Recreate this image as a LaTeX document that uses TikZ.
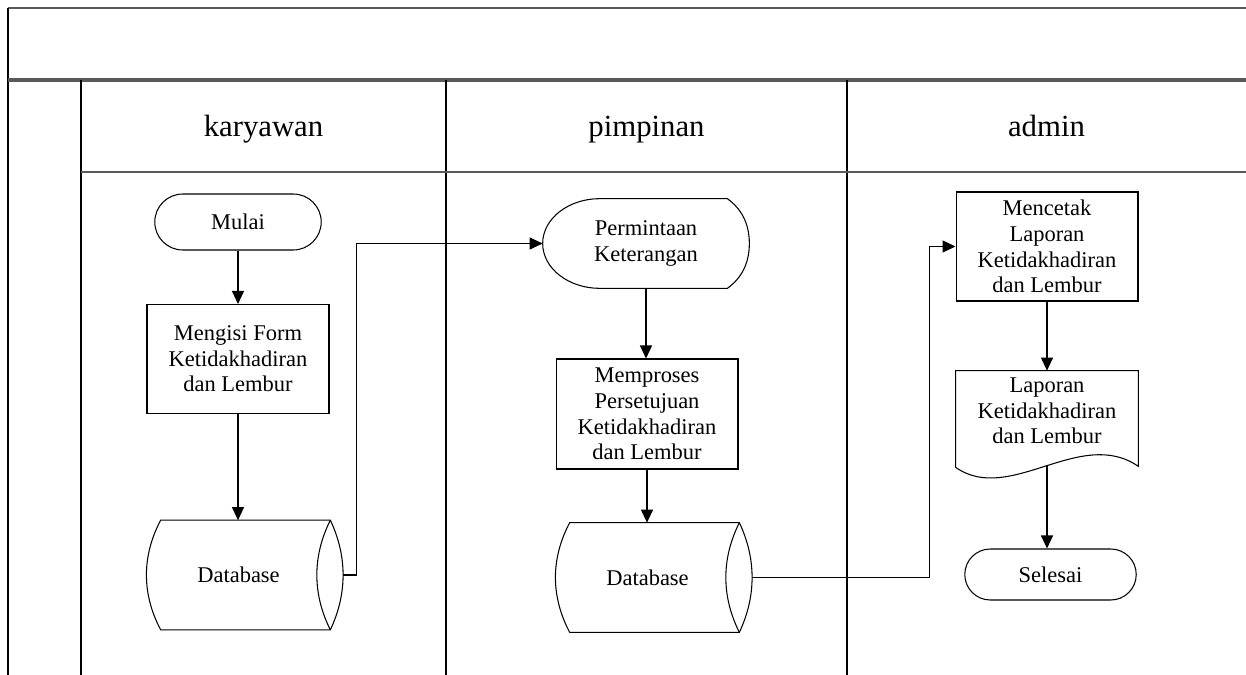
\documentclass[tikz,border=0pt]{standalone}
\usepackage{fontspec}
\setmainfont{Liberation Serif}
\usetikzlibrary{arrows.meta, positioning, calc, shapes.misc}
\definecolor{laneline}{HTML}{5A5A5A}
\newcommand{\flowfont}{\fontsize{12.8}{14.6}\selectfont}
\newcommand{\lanefont}{\fontsize{17.5}{20}\selectfont}
\tikzset{
  shapetext/.style={inner sep=1pt, align=center, font=\flowfont},
  flowbox/.style={shapetext, draw, line width=0.6pt,
                  minimum width=3.64cm, minimum height=2.18cm},
  termbox/.style={shapetext, draw, line width=0.6pt, rounded rectangle,
                  minimum height=1.12cm},
  lanehead/.style={font=\lanefont, anchor=base},
  headline/.style={laneline, line width=1.3pt},
  flowarrow/.style={-{Triangle[length=2.6mm, width=2.4mm]}, line width=0.6pt},
}
\newcommand{\dbnode}[4]{%
  \node[shapetext, minimum width=3.66cm, minimum height=2.18cm] (#1) at (#2,#3) {#4};
  \draw[line width=0.6pt] ($(#1.north west)+(14,0)$) -- (#1.north east)
    .. controls +(17,36) and +(17,-36) .. (#1.south east)
    -- ($(#1.south west)+(14,0)$)
    .. controls +(-19,-36) and +(-19,36) .. cycle;
  \draw[line width=0.6pt] (#1.north east)
    .. controls +(-18,36) and +(-18,-36) .. (#1.south east);
  \coordinate (#1-port) at ($(#1.east)+(13,0)$);}
\newcommand{\dispnode}[4]{%
  \node[shapetext, minimum width=4.12cm, minimum height=1.78cm] (#1) at (#2,#3) {#4};
  \draw[line width=0.6pt] ($(#1.north west)+(57,0)$) -- ($(#1.north east)+(-22,0)$)
    .. controls +(14,10) and +(0,-20) .. (#1.east)
    .. controls +(0,20) and +(14,-10) .. ($(#1.south east)+(-22,0)$)
    -- ($(#1.south west)+(57,0)$)
    .. controls +(-31,0) and +(0,25) .. (#1.west)
    .. controls +(0,-25) and +(-31,0) .. cycle;}
\newcommand{\docnode}[4]{%
  \node[shapetext, minimum width=3.64cm, minimum height=1.6cm] (#1) at (#2,#3) {#4};
  \draw[line width=0.6pt] (#1.north west) -- ($(#1.south west)+(0,16)$)
    .. controls +(54,38) and +(-58,-40) .. ($(#1.south east)+(0,15)$)
    -- (#1.north east) -- cycle;
  \coordinate (#1-tail) at ($(#1.south)+(0,14)$);}

\begin{document}
\begin{tikzpicture}[x=0.02cm, y=-0.02cm]
  \useasboundingbox (0,0) rectangle (1246,675);
  % swimlane frame
  \draw[headline] (8,8) -- (1246,8);
  \draw[line width=0.6pt] (8,8) -- (8,675);
  \draw[headline, line width=1.8pt] (8,80) -- (1246,80);
  \draw[line width=0.6pt] (81,80) -- (81,675);
  \draw[line width=1pt] (446,80) -- (446,675);
  \draw[line width=1pt] (847,80) -- (847,675);
  \draw[headline] (81,172) -- (1246,172);
  \node[lanehead] (hkaryawan) at (263.5,137) {karyawan};
  \node[lanehead] (hpimpinan) at (646.5,137) {pimpinan};
  \node[lanehead] (hadmin) at (1046.5,137) {admin};
  % karyawan
  \node[termbox, minimum width=3.4cm] (mulai) at (238,222) {Mulai};
  \node[flowbox] (isiform) at (238,359) {Mengisi Form\\Ketidakhadiran\\dan Lembur};
  \dbnode{dbkaryawan}{238.5}{575}{Database}
  % pimpinan
  \dispnode{minta}{646}{243.5}{Permintaan\\Keterangan}
  \node[flowbox, minimum height=2.2cm] (proses) at (647,414) {Memproses\\Persetujuan\\Ketidakhadiran\\dan Lembur};
  \dbnode{dbpimpinan}{647.5}{577.5}{Database}
  % admin
  \node[flowbox] (cetak) at (1047,246.5) {Mencetak\\Laporan\\Ketidakhadiran\\dan Lembur};
  \docnode{laporan}{1047}{411}{Laporan\\Ketidakhadiran\\dan Lembur}
  \node[termbox, minimum width=3.5cm, minimum height=1.02cm] (selesai) at (1050.5,574.5) {Selesai};
  % connectors
  \draw[flowarrow] (mulai.south) -- (isiform.north);
  \draw[flowarrow] (isiform.south) -- (isiform.south |- dbkaryawan.north);
  \draw[flowarrow] (dbkaryawan-port) -- ++(13,0) |- (minta.west);
  \draw[flowarrow] (minta.south) -- (minta.south |- proses.north);
  \draw[flowarrow] (proses.south) -- (proses.south |- dbpimpinan.north);
  \draw[flowarrow] (dbpimpinan-port) -- ++(177,0) |- (cetak.west);
  \draw[flowarrow] (cetak.south) -- (laporan.north);
  \draw[flowarrow] (laporan-tail) -- (laporan-tail |- selesai.north);
\end{tikzpicture}
\end{document}
